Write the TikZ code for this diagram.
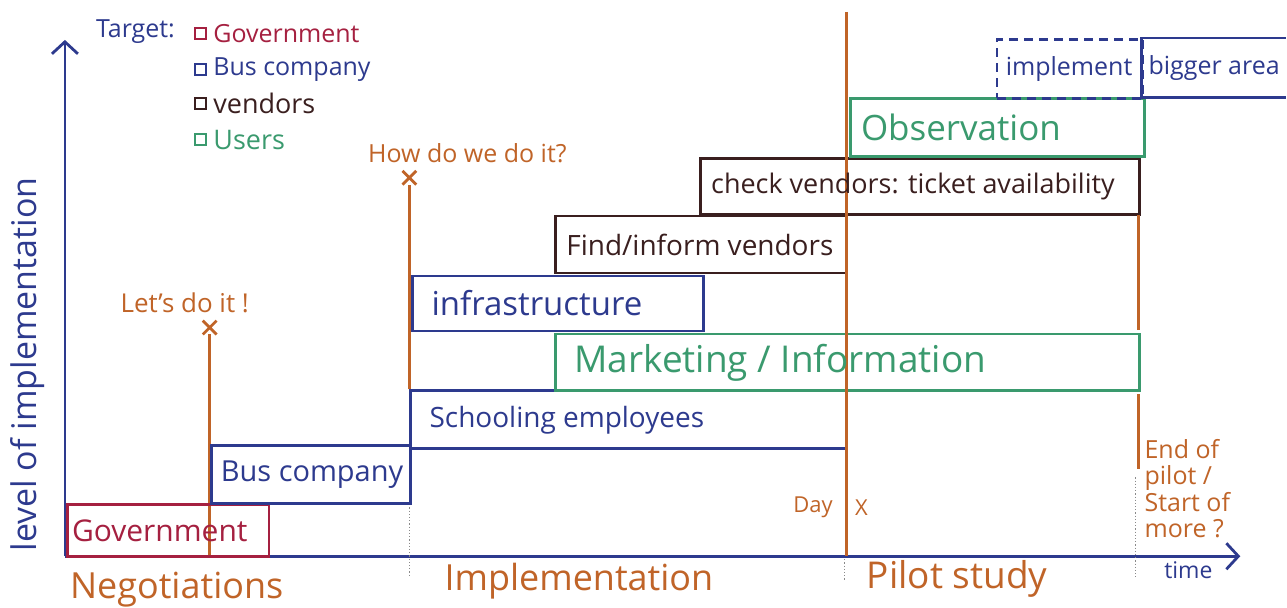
\documentclass[tikz,border=0pt]{standalone}
\usepackage{fontspec}
\setmainfont{Open Sans}
\usetikzlibrary{arrows.meta,positioning,shapes.misc}
\definecolor{govred}{HTML}{A52040}
\definecolor{busblue}{HTML}{2D3A8E}
\definecolor{vendbrown}{HTML}{3A1F1F}
\definecolor{usergreen}{HTML}{3A9A6E}
\definecolor{penorange}{HTML}{C06428}
\definecolor{dotgray}{HTML}{8A8A8A}
\newcommand{\fs}[1]{\fontsize{#1}{#1}\selectfont}

\begin{document}
\begin{tikzpicture}[x=1pt,y=-1pt,
    bar/.style={draw,line width=2.8pt,anchor=north west,inner sep=0pt},
    lbl/.style={inner sep=0pt,anchor=west},
    note/.style={text=penorange,inner sep=0pt},
    pen/.style={penorange,line width=2.8pt},
    guide/.style={dotgray,line width=1.2pt,dotted},
    xmark/.style={cross out,draw=penorange,line width=2.8pt,minimum size=11pt,inner sep=0pt},
    lgbox/.style={draw,line width=2pt,minimum size=11pt,inner sep=0pt},
    axis/.style={busblue,line width=2.8pt,-{Straight Barb[length=12pt,width=26pt,line width=2.8pt]}}]
  \fill[white] (0,0) rectangle (1287,608);
  % axes
  \coordinate (origin) at (65,557);
  \coordinate (ytip) at (65,40);
  \coordinate (xtip) at (1242,557);
  \draw[axis] (origin) -- (ytip);
  \draw[axis] (origin) -- (xtip);
  \node[rotate=90,text=busblue,font=\fs{34}] (ylbl) at (28,365) {level of implementation};
  \node[text=busblue,font=\fs{23},inner sep=0pt] (timelbl) at (1190,571) {time};

  % decisions
  \coordinate (letsbase) at (210,556);
  \node[xmark] (letsx) at (210,328) {};
  \draw[pen] (letsbase) -- (letsx);
  \node[note,font=\fs{26},above=8pt of letsx,xshift=-25pt] (letslbl) {Let's do it !};
  \coordinate (howbase) at (410,390);
  \node[xmark] (howx) at (410,178) {};
  \draw[pen] (howbase) -- (howx);
  \node[note,font=\fs{25},above=8pt of howx,xshift=58pt] (howlbl) {How do we do it?};

  % phase separators
  \coordinate (sep1a) at (410,505); \coordinate (sep1b) at (410,578);
  \coordinate (sep2a) at (846,560); \coordinate (sep2b) at (846,582);
  \coordinate (sep3a) at (1137,478); \coordinate (sep3b) at (1137,578);
  \draw[guide] (sep1a) -- (sep1b);
  \draw[guide] (sep2a) -- (sep2b);
  \draw[guide] (sep3a) -- (sep3b);

  % tasks
  \node[bar,draw=govred,minimum width=202pt,minimum height=52pt] (gov) at (66,504) {};
  \node[bar,draw=busblue,minimum width=200pt,minimum height=58pt] (bus) at (210,445) {};
  \node[bar,draw=busblue,minimum width=436pt,minimum height=58pt] (school) at (410,390) {};
  \node[bar,draw=usergreen,minimum width=585pt,minimum height=57pt] (market) at (555,333) {};
  \node[bar,draw=busblue,minimum width=291pt,minimum height=55pt] (infra) at (412,275) {};
  \node[bar,draw=vendbrown,minimum width=291pt,minimum height=57pt] (find) at (555,215) {};
  \node[bar,draw=vendbrown,minimum width=440pt,minimum height=56pt] (check) at (700,157) {};

  % day X
  \coordinate (daytop) at (848,12);
  \coordinate (daybot) at (848,557);
  \draw[pen] (daytop) -- (daybot);
  \node[note,font=\fs{22},anchor=east] (daylbl) at (834,508) {Day};
  \node[note,font=\fs{22},anchor=west] (xlbl) at (856,508) {X};

  \node[bar,draw=usergreen,minimum width=295pt,minimum height=58pt] (obs) at (850,97) {};
  \node[bar,draw=busblue,dashed,dash pattern=on 9pt off 6pt,minimum width=146pt,minimum height=59pt] (impl) at (997,38) {};
  \node[anchor=north west,inner sep=0pt,minimum width=144pt,minimum height=59pt] (bigger) at (1143,38) {};
  \draw[busblue,line width=2.8pt] (bigger.north east) -- (bigger.north west) -- (bigger.south west) -- (bigger.south east);

  % end of pilot
  \coordinate (end1a) at (1140,215); \coordinate (end1b) at (1140,330);
  \coordinate (end2a) at (1140,395); \coordinate (end2b) at (1140,470);
  \draw[pen] (end1a) -- (end1b);
  \draw[pen] (end2a) -- (end2b);
  \node[note,font=\fs{25},align=left,anchor=north west] (endlbl) at (1146,440)
    {End of\\[1pt]pilot /\\[1pt]Start of\\[1pt]more ?};

  % task labels
  \node[lbl,text=govred,font=\fs{30},right=6pt of gov.west] (govtxt) {Government};
  \node[lbl,text=busblue,font=\fs{29},right=11pt of bus.west] (bustxt) {Bus company};
  \node[lbl,text=busblue,font=\fs{28},right=20pt of school.west] (schooltxt) {Schooling employees};
  \node[lbl,text=usergreen,font=\fs{37},right=20pt of market.west] (markettxt) {Marketing / Information};
  \node[lbl,text=busblue,font=\fs{33},right=20pt of infra.west] (infratxt) {infrastructure};
  \node[lbl,text=vendbrown,font=\fs{28},right=12pt of find.west] (findtxt) {Find/inform vendors};
  \node[lbl,text=vendbrown,font=\fs{27},right=12pt of check.west] (checktxt) {check vendors: ticket availability};
  \node[lbl,text=usergreen,font=\fs{35},right=12pt of obs.west] (obstxt) {Observation};
  \node[lbl,text=busblue,font=\fs{25},right=10pt of impl.west] (impltxt) {implement};
  \node[lbl,text=busblue,font=\fs{25},right=7pt of bigger.west] (biggertxt) {bigger area};

  % phases
  \node[note,font=\fs{36},anchor=west] (negolbl) at (70,590) {Negotiations};
  \node[note,font=\fs{36},anchor=west] (impllbl) at (445,582) {Implementation};
  \node[note,font=\fs{37},anchor=west] (pilotlbl) at (868,580) {Pilot study};

  % legend
  \node[text=busblue,font=\fs{25},inner sep=0pt,anchor=west] (target) at (96,32) {Target:};
  \node[lgbox,draw=govred] (lgov) at (201,34) {};
  \node[lgbox,draw=busblue] (lbus) at (201,70) {};
  \node[lgbox,draw=vendbrown] (lvend) at (201,104) {};
  \node[lgbox,draw=usergreen] (luser) at (201,140) {};
  \node[lbl,text=govred,font=\fs{25},right=6pt of lgov] (lgovtxt) {Government};
  \node[lbl,text=busblue,font=\fs{25},right=6pt of lbus] (lbustxt) {Bus company};
  \node[lbl,text=vendbrown,font=\fs{27},right=6pt of lvend] (lvendtxt) {vendors};
  \node[lbl,text=usergreen,font=\fs{27},right=6pt of luser] (lusertxt) {Users};
\end{tikzpicture}
\end{document}
